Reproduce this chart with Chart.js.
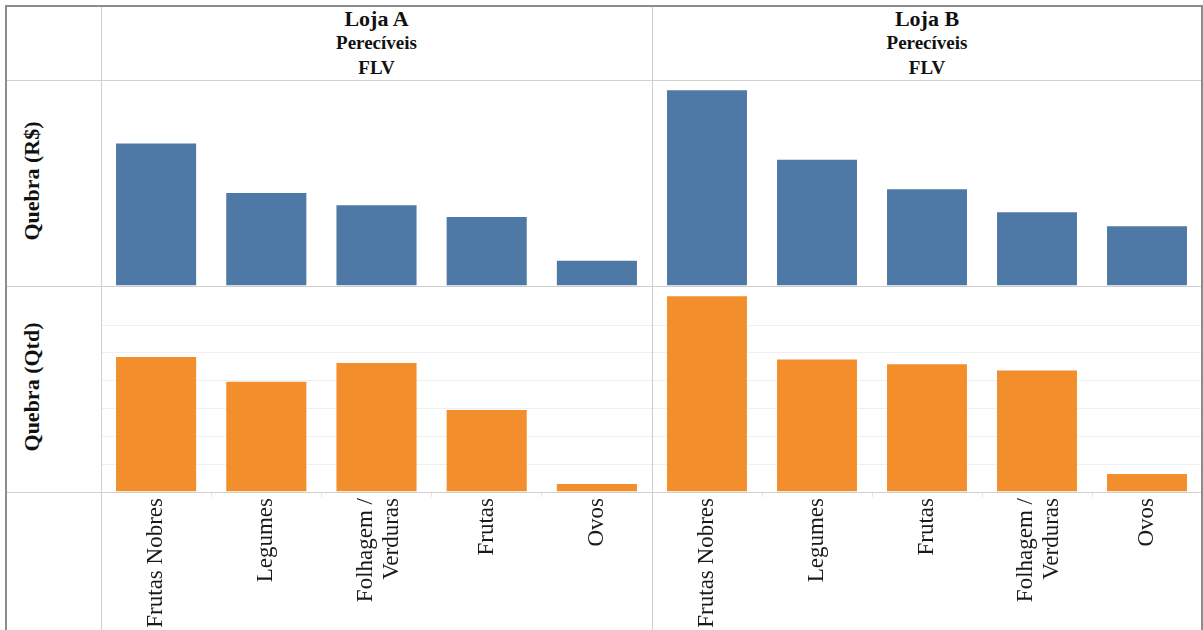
<!DOCTYPE html>
<html lang="pt-BR">
<head>
<meta charset="utf-8">
<title>Quebra por loja - Perecíveis FLV</title>
<script src="https://cdn.jsdelivr.net/npm/chart.js@4.4.1/dist/chart.umd.min.js"></script>
<style>
  html, body { margin: 0; padding: 0; background: #ffffff; }
  body { width: 1203px; height: 630px; position: relative; overflow: hidden; font-family: "Liberation Serif", "Times New Roman", serif; }
  .pane { position: absolute; }
  .line { position: absolute; background: #cfcfcf; z-index: 5; }
  .frame { position: absolute; background: #8c8c8c; z-index: 6; }
  .head { position: absolute; text-align: center; color: #111; font-weight: bold; white-space: nowrap; }
  .rowlab { position: absolute; color: #111; font-weight: bold; font-size: 22px; line-height: 22px; white-space: nowrap;
            transform: translate(-50%, -50%) rotate(-90deg); }
</style>
</head>
<body>
<script>
// Categorias de cada loja (ordenadas por quebra em R$)
const categoriesA = ['Frutas Nobres', 'Legumes', ['Folhagem /', 'Verduras'], 'Frutas', 'Ovos'];
const categoriesB = ['Frutas Nobres', 'Legumes', 'Frutas', ['Folhagem /', 'Verduras'], 'Ovos'];

// Quebra em valor (R$)
const quebraValorA = [1840, 1205, 1047, 897, 337];
const quebraValorB = [2522, 1632, 1252, 957, 778];

// Quebra em quantidade
const quebraQtdA = [489, 400, 468, 299, 32];
const quebraQtdB = [708, 480, 463, 441, 68];

// Escalas compartilhadas por linha
const valorStep = 1000, valorMax = 2640;
const qtdStep = 100, qtdMax = 741;

const headers = [
  { loja: 'Loja A', setor: 'Perecíveis', grupo: 'FLV' },
  { loja: 'Loja B', setor: 'Perecíveis', grupo: 'FLV' }
];
const rowTitles = ['Quebra (R$)', 'Quebra (Qtd)'];

const BLUE = '#4e79a7';
const ORANGE = '#f28e2b';
const SERIF = '"Liberation Serif", "Times New Roman", serif';
const LABEL_SIZE = 23, LABEL_LH = 1.13;

function el(tag, cls, style, text) {
  const e = document.createElement(tag);
  if (cls) e.className = cls;
  Object.assign(e.style, style);
  if (text !== undefined) e.textContent = text;
  document.body.appendChild(e);
  return e;
}

// Moldura e divisões da tabela
el('div', 'frame', { left: '5px', top: '5px', width: '1198px', height: '2px' });
el('div', 'frame', { left: '5px', top: '5px', width: '2px', height: '625px' });
el('div', 'frame', { left: '1201px', top: '5px', width: '2px', height: '625px' });
[80, 286, 492].forEach(y => el('div', 'line', { left: '7px', top: y + 'px', width: '1194px', height: '1px' }));
[101, 652].forEach(x => el('div', 'line', { left: x + 'px', top: '7px', width: '1px', height: '623px' }));

// Cabeçalhos das colunas
const cols = [{ x: 101, w: 551 }, { x: 652, w: 550 }];
headers.forEach((h, i) => {
  const c = cols[i];
  el('div', 'head', { left: c.x + 'px', width: c.w + 'px', top: '8px', fontSize: '22px', lineHeight: '22px' }, h.loja);
  el('div', 'head', { left: c.x + 'px', width: c.w + 'px', top: '33px', fontSize: '19px', lineHeight: '19px' }, h.setor);
  el('div', 'head', { left: c.x + 'px', width: c.w + 'px', top: '58px', fontSize: '19px', lineHeight: '19px' }, h.grupo);
});

// Títulos das linhas
el('div', 'rowlab', { left: '32px', top: '181px' }, rowTitles[0]);
el('div', 'rowlab', { left: '32px', top: '387px' }, rowTitles[1]);

// Centraliza rótulos de várias linhas (rotacionados) sobre a categoria
const centerMultiline = {
  id: 'centerMultiline',
  beforeDraw(chart) {
    const sx = chart.scales.x;
    if (!sx || !sx.options.display) return;
    const items = sx.getLabelItems();
    const lh = LABEL_SIZE * LABEL_LH;
    items.forEach(it => {
      if (Array.isArray(it.label) && !it._centered) {
        it.options.translation[0] -= (it.label.length - 1) * lh / 2 - 2;
        it._centered = true;
      }
    });
  }
};

function makeCanvas(x, y, w, h) {
  const cv = document.createElement('canvas');
  cv.width = w; cv.height = h;
  cv.className = 'pane';
  cv.style.left = x + 'px'; cv.style.top = y + 'px';
  cv.style.width = w + 'px'; cv.style.height = h + 'px';
  document.body.appendChild(cv);
  return cv;
}

function makePane(cv, labels, values, color, step, max, showLabels) {
  return new Chart(cv.getContext('2d'), {
    type: 'bar',
    data: {
      labels: labels,
      datasets: [{
        data: values,
        backgroundColor: color,
        borderColor: 'rgba(255,255,255,0.55)',
        borderWidth: 1,
        barPercentage: 0.745,
        categoryPercentage: 1.0
      }]
    },
    plugins: [centerMultiline],
    options: {
      responsive: false,
      animation: false,
      layout: { padding: 0 },
      plugins: { legend: { display: false }, tooltip: { enabled: false } },
      scales: {
        x: {
          display: showLabels,
          offset: true,
          border: { display: false },
          grid: {
            offset: true,
            drawOnChartArea: false,
            drawTicks: true,
            tickLength: 5,
            color: '#e4e4e4'
          },
          ticks: {
            autoSkip: false,
            maxRotation: 90,
            minRotation: 90,
            padding: 1,
            color: '#1a1a1a',
            font: { family: SERIF, size: LABEL_SIZE, lineHeight: LABEL_LH }
          },
          afterFit: (scale) => { if (showLabels) scale.height = 138; }
        },
        y: {
          min: 0,
          max: max,
          border: { display: false },
          ticks: { display: false, stepSize: step },
          grid: {
            drawTicks: false,
            color: (ctx) => (ctx.tick && ctx.tick.value % step === 0 && ctx.tick.value > 0) ? '#efefef' : 'rgba(0,0,0,0)'
          }
        }
      }
    }
  });
}

makePane(makeCanvas(101, 80, 551, 206), categoriesA, quebraValorA, BLUE, valorStep, valorMax, false);
makePane(makeCanvas(652, 80, 550, 206), categoriesB, quebraValorB, BLUE, valorStep, valorMax, false);
makePane(makeCanvas(101, 286, 551, 344), categoriesA, quebraQtdA, ORANGE, qtdStep, qtdMax, true);
makePane(makeCanvas(652, 286, 550, 344), categoriesB, quebraQtdB, ORANGE, qtdStep, qtdMax, true);
</script>
</body>
</html>
